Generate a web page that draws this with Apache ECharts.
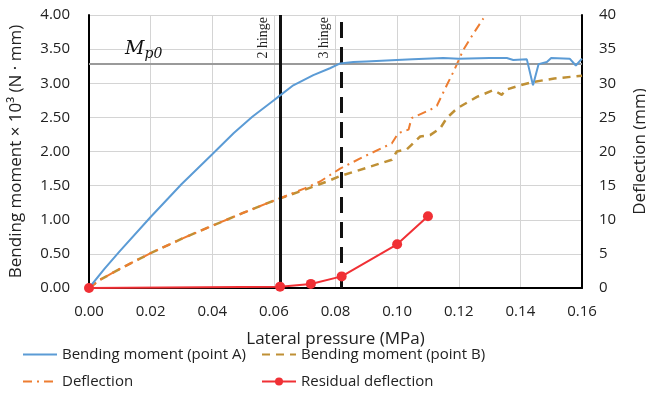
<!DOCTYPE html>
<html><head><meta charset="utf-8">
<script src="https://cdn.jsdelivr.net/npm/echarts@6/dist/echarts.min.js"></script>
<style>html,body{margin:0;padding:0;background:#fff}#c{width:646px;height:396px}</style>
</head><body><div id="c"></div>
<script>
const xTicks = [0, 0.02, 0.04, 0.06, 0.08, 0.10, 0.12, 0.14, 0.16];
const pressureA = [0, 0.005, 0.01, 0.02, 0.03, 0.04, 0.047, 0.053, 0.06, 0.0614, 0.0663, 0.0728, 0.0782, 0.0815, 0.0858, 0.09, 0.0999, 0.105, 0.115, 0.12, 0.13, 0.1356, 0.1377, 0.1421, 0.1441, 0.1459, 0.1486, 0.150, 0.156, 0.158, 0.16];
const momentA = [0, 0.28, 0.54, 1.04, 1.52, 1.96, 2.27, 2.51, 2.75, 2.80, 2.97, 3.12, 3.22, 3.29, 3.31, 3.32, 3.34, 3.35, 3.37, 3.36, 3.37, 3.37, 3.34, 3.35, 2.97, 3.28, 3.31, 3.37, 3.36, 3.26, 3.36];
const pressureB = [0, 0.0036, 0.01, 0.02, 0.03, 0.0404, 0.05, 0.0577, 0.0618, 0.07, 0.0772, 0.0815, 0.09, 0.0983, 0.0999, 0.1031, 0.1075, 0.1107, 0.114, 0.1161, 0.1194, 0.1259, 0.1313, 0.134, 0.135, 0.14, 0.1443, 0.151, 0.16];
const momentB = [0, 0.12, 0.28, 0.51, 0.72, 0.92, 1.10, 1.24, 1.31, 1.44, 1.56, 1.64, 1.76, 1.88, 2.0, 2.03, 2.22, 2.24, 2.34, 2.49, 2.63, 2.80, 2.90, 2.83, 2.90, 2.97, 3.02, 3.07, 3.11];
const pressureD = [0, 0.0036, 0.01, 0.02, 0.03, 0.0404, 0.05, 0.0577, 0.0618, 0.07, 0.075, 0.0815, 0.089, 0.0983, 0.1004, 0.1037, 0.1047, 0.1107, 0.1129, 0.1161, 0.1183, 0.1215, 0.1248, 0.128];
const deflection = [0, 1.2, 2.8, 5.1, 7.2, 9.2, 11.0, 12.4, 13.1, 14.6, 15.6, 17.5, 19.2, 21.2, 22.7, 23.2, 24.9, 26.1, 26.7, 29.7, 31.7, 34.9, 37.3, 39.5];
const pressureR = [0, 0.062, 0.072, 0.082, 0.100, 0.110];
const residual = [0, 0.2, 0.6, 1.7, 6.4, 10.5];
const hinge2 = 0.062, hinge3 = 0.082, mp0 = 3.28;

const zip = (a, b) => a.map((v, i) => [v, b[i]]);
const font = '"Open Sans", "Noto Sans", sans-serif';
const chart = echarts.init(document.getElementById('c'), null, {renderer: 'canvas'});
const noSym = {opacity: 0};
chart.setOption({
  animation: false,
  textStyle: {fontFamily: font},
  grid: {left: 89, right: 64, top: 15, bottom: 108, outerBoundsMode: 'none', containLabel: false},
  xAxis: {
    type: 'value', min: 0, max: 0.16, interval: 0.02,
    name: 'Lateral pressure (MPa)', nameLocation: 'middle', nameGap: 43,
    nameTextStyle: {fontSize: 17, color: '#222', fontFamily: font},
    axisLine: {lineStyle: {color: '#000', width: 2}},
    axisTick: {show: false},
    axisLabel: {formatter: v => v.toFixed(2), fontSize: 15, color: '#222', margin: 16},
    splitLine: {lineStyle: {color: '#d4d4d4', width: 1}}
  },
  yAxis: [{
    type: 'value', min: 0, max: 4, interval: 0.5,
    name: 'Bending moment × 10³ (N · mm)', nameLocation: 'middle', nameGap: 64,
    nameTextStyle: {fontSize: 17, color: '#222', fontFamily: font},
    axisLine: {show: true, lineStyle: {color: '#000', width: 2}},
    axisTick: {show: false},
    axisLabel: {formatter: v => v.toFixed(2), fontSize: 15, color: '#222', margin: 19},
    splitLine: {lineStyle: {color: '#d4d4d4', width: 1}}
  }, {
    type: 'value', min: 0, max: 40, interval: 5,
    name: 'Deflection (mm)', nameLocation: 'middle', nameGap: 50,
    nameTextStyle: {fontSize: 17, color: '#222', fontFamily: font},
    axisLine: {show: true, lineStyle: {color: '#000', width: 2}},
    axisTick: {show: false},
    axisLabel: {fontSize: 15, color: '#222', margin: 17},
    splitLine: {show: false}
  }],
  legend: [{
    left: 22, top: 347, orient: 'vertical', itemGap: 12, itemWidth: 34, itemHeight: 10, padding: 0,
    textStyle: {fontSize: 15, color: '#222', fontFamily: font},
    data: [{name: 'Bending moment (point A)', itemStyle: noSym}, {name: 'Deflection', itemStyle: noSym}]
  }, {
    left: 261, top: 347, orient: 'vertical', itemGap: 12, itemWidth: 34, itemHeight: 10, padding: 0,
    textStyle: {fontSize: 15, color: '#222', fontFamily: font},
    data: [{name: 'Bending moment (point B)', itemStyle: noSym}, 'Residual deflection']
  }],
  series: [{
    name: 'Bending moment (point A)', type: 'line', yAxisIndex: 0,
    data: zip(pressureA, momentA), symbol: 'none', z: 5,
    lineStyle: {color: '#5b9bd5', width: 2}, itemStyle: {color: '#5b9bd5'},
    markLine: {
      silent: true, symbol: 'none', animation: false, precision: 5,
      data: [
        {yAxis: mp0, lineStyle: {color: '#9a9a9a', width: 2, type: 'solid'},
         label: {show: true, position: 'insideStartTop', distance: [36, 3],
           formatter: '{m|M}{s|p0}',
           rich: {m: {fontFamily: '"DejaVu Serif", serif', fontStyle: 'italic', fontSize: 19, color: '#111'},
                  s: {fontFamily: '"DejaVu Serif", serif', fontStyle: 'italic', fontSize: 14, color: '#111', padding: [10, 0, 0, 0]}}}},
        {xAxis: hinge2, lineStyle: {color: '#111', width: 3, type: 'solid'},
         label: {show: true, position: 'insideEndTop', formatter: '2 hinge', distance: [2, 10],
           fontFamily: '"Liberation Serif", serif', fontSize: 14, color: '#222'}},
        {xAxis: hinge3, lineStyle: {color: '#111', width: 3, type: [16, 9]},
         label: {show: true, position: 'insideEndTop', formatter: '3 hinge', distance: [2, 10],
           fontFamily: '"Liberation Serif", serif', fontSize: 14, color: '#222'}}
      ]
    }
  }, {
    name: 'Bending moment (point B)', type: 'line', yAxisIndex: 0,
    data: zip(pressureB, momentB), symbol: 'none', z: 4,
    lineStyle: {color: '#bf9035', width: 2.5, type: [8, 6]}, itemStyle: {color: '#bf9035'}
  }, {
    name: 'Deflection', type: 'line', yAxisIndex: 1,
    data: zip(pressureD, deflection), symbol: 'none', z: 4,
    lineStyle: {color: '#ed7d31', width: 2, type: [9, 5, 2, 5]}, itemStyle: {color: '#ed7d31'}
  }, {
    name: 'Residual deflection', type: 'line', yAxisIndex: 1,
    data: zip(pressureR, residual), symbol: 'circle', symbolSize: 10, z: 6,
    lineStyle: {color: '#f03035', width: 2}, itemStyle: {color: '#f03035'}
  }]
});
</script></body></html>
